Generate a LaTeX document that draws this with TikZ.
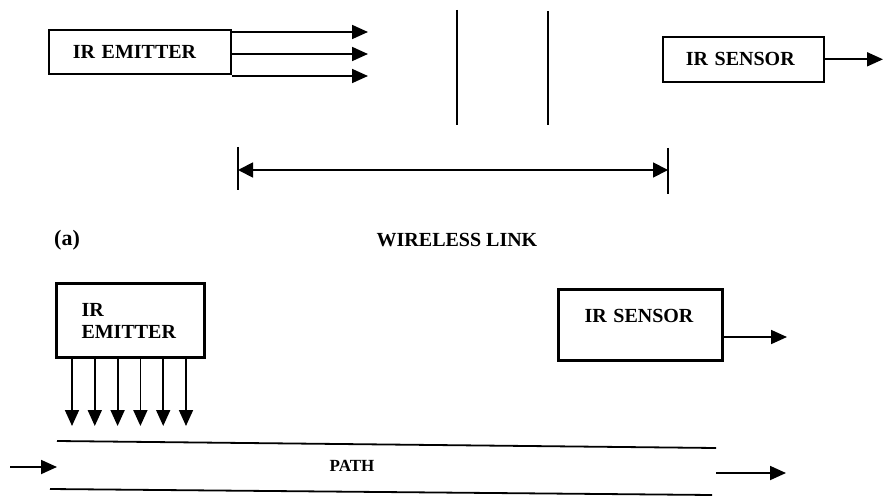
\documentclass[tikz,border=0pt]{standalone}
\usepackage{fontspec}
\setmainfont{Liberation Serif}
\usetikzlibrary{arrows.meta,positioning}
\tikzset{bx/.style={draw,line width=1.6pt,align=left,font=\fontsize{20}{22}\selectfont\bfseries,inner ysep=0pt},
 tbx/.style={bx,line width=3pt},
 ln/.style={line width=1.8pt},
 ar/.style={line width=1.8pt,-{Triangle[length=16pt,width=14pt]}},
 dim/.style={line width=1.8pt,{Triangle[length=15pt,width=15pt]}-{Triangle[length=15pt,width=15pt]}},
 lb/.style={font=\fontsize{20}{22}\selectfont\bfseries,inner sep=0pt}}
\begin{document}
\begin{tikzpicture}[x=1pt,y=-1pt]
\useasboundingbox (0,0) rectangle (885,497);
% (a) emitter, gap, sensor
\node[bx,anchor=north west,minimum height=44pt,text width=134pt,inner xsep=24pt](em) at (48,29){IR EMITTER};
\node[bx,anchor=north west,minimum height=45pt,text width=115pt,inner xsep=23pt](sn) at (662,36){IR SENSOR};
\foreach \y[count=\i] in {32,54,76}{\coordinate(r\i) at (368,\y);\draw[ar](r\i -| em.east)--(r\i);}
\coordinate(so) at (883,58);\draw[ar](sn.east)--(sn.east -| so);
\draw[ln](457,10)--(457,125) (548,11)--(548,125);
\coordinate(dl) at (238,170);\coordinate(dr) at (668,170);
\draw[ln]([yshift=23pt]dl)--([yshift=-20pt]dl) ([yshift=22pt]dr)--([yshift=-24pt]dr);
\draw[dim](dl)--(dr);
\node[lb,font=\fontsize{22}{24}\selectfont\bfseries](a) at (67,240){(a)};\node[lb](wl) at (457,240){WIRELESS LINK};
% (b) emitter over the path
\node[tbx,anchor=north west,minimum height=74pt,text width=98pt,inner xsep=25pt](eb) at (55,282){IR\\EMITTER};
\node[tbx,anchor=north west,text width=112pt,inner xsep=26pt,inner ysep=20pt,text height=13pt,text depth=18pt](sb) at (557,288){IR SENSOR};
\foreach \i in {0,...,5}\draw[ar]([xshift=17pt+\i*22.8pt]eb.south west)--++(0,67);
\coordinate(sbo) at (787,337);\draw[ar](sbo -| sb.east)--(sbo);
\draw[ln](57,441)--(716,448) (50,489)--(712,495);
\coordinate(pa) at (10,467);\coordinate(pb) at (57,467);\draw[ar](pa)--(pb);
\coordinate(pc) at (716,473);\coordinate(pd) at (786,473);\draw[ar](pc)--(pd);
\node[lb,font=\fontsize{17}{20}\selectfont\bfseries](p) at (352,466){PATH};
\end{tikzpicture}
\end{document}
